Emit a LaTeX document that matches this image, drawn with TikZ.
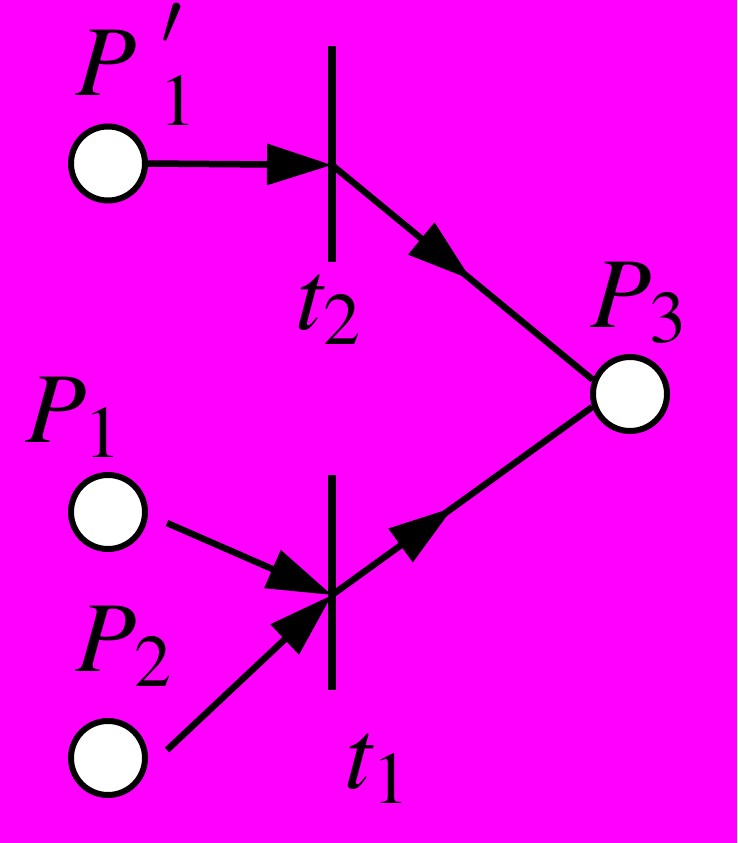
\documentclass[tikz,border=0pt]{standalone}
\usepackage{mathptmx}
\usetikzlibrary{arrows.meta,decorations.markings,calc}
\definecolor{bg}{RGB}{255,0,255}
\tikzset{
	place/.style={circle, draw, line width=0.12cm, fill=white, minimum size=1.48cm, inner sep=0pt},
	trans/.style={fill=black, minimum width=0.15cm, minimum height=4.3cm, inner sep=0pt},
	link/.style={line width=0.13cm},
	head/.style={-{Triangle[length=1.3cm,width=0.8cm]}},
	midhead/.style={postaction={decorate}, decoration={markings, mark=at position #1 with {\arrow{Triangle[length=1.3cm,width=0.8cm]}}}},
	lbl/.style={anchor=base west, inner sep=0pt, font=\fontsize{57}{60}\selectfont}
}
\newcommand{\sub}[1]{_{\kern0.1em #1}}
\newcommand{\primeup}{\kern0.25em\raise0.15em\hbox{$\scriptstyle\prime$}}

\begin{document}
\begin{tikzpicture}
		\fill[bg] (0,0) rectangle (14.74,-16.86);
		
		\node[place] (p1a) at (2.16,-3.27) {};
		\node[place] (p1) at (2.16,-10.24) {};
		\node[place] (p2) at (2.16,-15.16) {};
		\node[place] (p3) at (12.6,-7.88) {};
		
		\node[trans] (t2) at (6.64,-3.08) {};
		\node[trans] (t1) at (6.64,-11.65) {};
		\coordinate (j2) at (6.64,-3.3);
		\coordinate (j1) at (6.64,-11.9);
		
		\node[lbl] (l1a) at (1.5,-1.92) {$P^{\primeup}_{\kern0.35em 1}$};
		\node[lbl] (lt2) at (5.96,-6.58) {$t_2$};
		\node[lbl] (l3) at (11.8,-6.54) {$P\sub{3}$};
		\node[lbl] (l1) at (0.5,-8.84) {$P\sub{1}$};
		\node[lbl] (l2) at (1.5,-13.42) {$P\sub{2}$};
		\node[lbl] (lt1) at (6.94,-15.76) {$t_1$};
		
		\draw[link, head] (p1a.east) -- (j2);
		\draw[link, head] ([shift={(0.38,-0.22)}]p1.east) -- (j1);
		\draw[link, head] ([shift={(0.38,0.16)}]p2.east) -- (j1);
		
		\draw[link, midhead=0.535] (j2) -- (p3.159);
		\draw[link, midhead=0.466] (j1) -- (p3.199);
	\end{tikzpicture}
\end{document}
